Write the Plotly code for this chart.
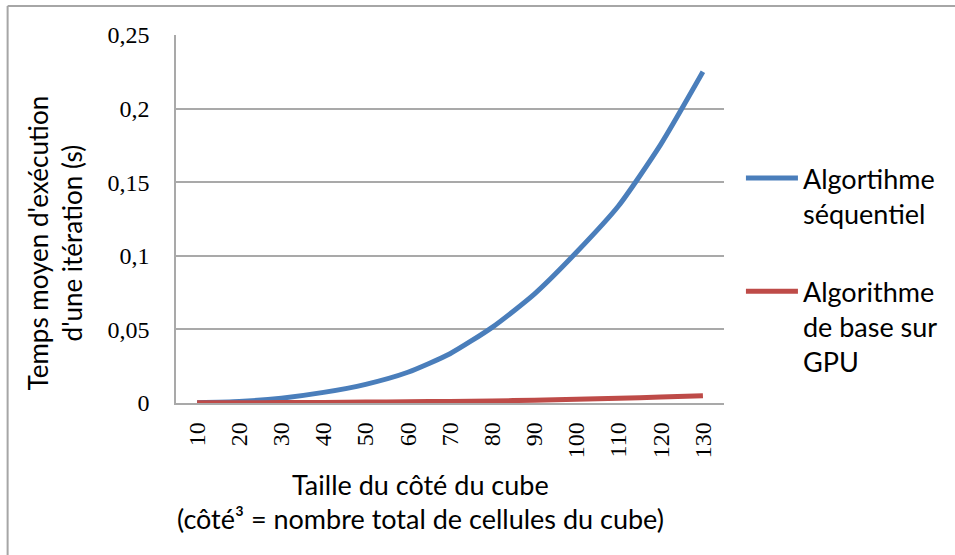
import plotly.graph_objects as go

# Cube side length (categories) and mean time per iteration, in seconds
cote = ["10", "20", "30", "40", "50", "60", "70", "80", "90", "100", "110", "120", "130"]
sequentiel = [0.0002, 0.0010, 0.0033, 0.0072, 0.0127, 0.0209, 0.0335, 0.0514,
              0.0740, 0.1024, 0.1340, 0.1757, 0.2250]
gpu_base = [0.0001, 0.0002, 0.0003, 0.0004, 0.0006, 0.0008, 0.0011, 0.0014,
            0.0019, 0.0025, 0.0032, 0.0040, 0.0050]
y_ticks = [0, 0.05, 0.10, 0.15, 0.20, 0.25]
y_tick_labels = ["0", "0,05", "0,1", "0,15", "0,2", "0,25"]

W, H = 955, 555
L, R, T, B = 176, 229, 35, 152
PW, PH = W - L - R, H - T - B


def px(x):
    return (x - L) / PW


def py(y):
    return (H - B - y) / PH


SANS = "Lato"
SERIF = "Liberation Serif"
GRID = "#A9A9A9"

fig = go.Figure()
fig.add_trace(go.Scatter(
    x=cote, y=sequentiel, mode="lines", name="Algortihme<br>séquentiel",
    line=dict(color="#4A7EBB", width=5, shape="spline", smoothing=0.6),
    legendgroup="a",
))
fig.add_trace(go.Scatter(
    x=cote, y=gpu_base, mode="lines", name="Algorithme<br>de base sur<br>GPU",
    line=dict(color="#BE4B48", width=5, shape="spline", smoothing=0.6),
    legendgroup="b",
))

fig.update_layout(
    width=W, height=H,
    margin=dict(l=L, r=R, t=T, b=B),
    paper_bgcolor="white", plot_bgcolor="white",
    showlegend=True,
    legend=dict(
        x=px(743), y=py(154), xanchor="left", yanchor="top",
        font=dict(family=SANS, size=27, color="black"),
        valign="top", tracegroupgap=40, itemwidth=52,
        bgcolor="rgba(0,0,0,0)",
    ),
    xaxis=dict(
        type="category", range=[-0.5, 12.5],
        showgrid=False, showline=True, linecolor=GRID, linewidth=1.5,
        tickangle=-90, ticks="", ticklabelstandoff=8,
        tickfont=dict(family=SERIF, size=24, color="black"),
    ),
    yaxis=dict(
        range=[0, 0.25], tickvals=y_ticks, ticktext=y_tick_labels,
        showgrid=True, gridcolor=GRID, gridwidth=1.5,
        showline=True, linecolor=GRID, linewidth=1.5,
        zeroline=False, ticks="", ticklabelstandoff=20,
        tickfont=dict(family=SERIF, size=24, color="black"),
    ),
    annotations=[
        dict(text="Temps moyen d'exécution<br>d'une itération (s)",
             x=px(55), y=py(243), xref="paper", yref="paper",
             xanchor="center", yanchor="middle", textangle=-90, showarrow=False,
             font=dict(family=SANS, size=26, color="black")),
        dict(text="Taille du côté du cube",
             x=px(421), y=py(484), xref="paper", yref="paper",
             xanchor="center", yanchor="middle", showarrow=False,
             font=dict(family=SANS, size=27, color="black")),
        dict(text="(côté³ = nombre total de cellules du cube)",
             x=px(421), y=py(518), xref="paper", yref="paper",
             xanchor="center", yanchor="middle", showarrow=False,
             font=dict(family=SANS, size=27, color="black")),
    ],
    shapes=[
        dict(type="line", xref="paper", yref="paper",
             x0=px(7), x1=px(7), y0=py(6), y1=py(570),
             line=dict(color="#A6A6A6", width=2)),
        dict(type="line", xref="paper", yref="paper",
             x0=px(7), x1=px(970), y0=py(6), y1=py(6),
             line=dict(color="#A6A6A6", width=2)),
    ],
)

fig.write_html("out.html")
